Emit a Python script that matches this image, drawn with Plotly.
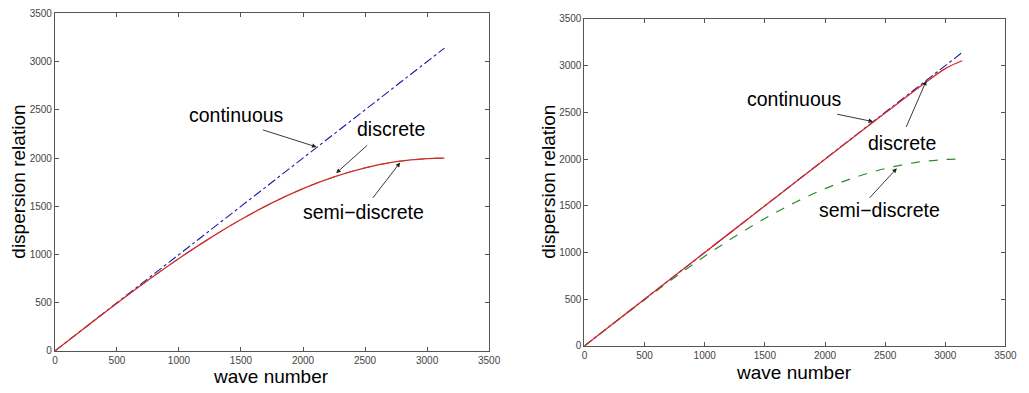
import plotly.graph_objects as go

# ---- data ----
wave_cont = [0, 3140]
cont_vals = [0, 3140]

wave_pts = [0, 250, 500, 750, 1000, 1250, 1500, 1750, 2000, 2250, 2500, 2750, 3000, 3140]
semi_discrete = [0, 249, 495, 733, 959, 1170, 1363, 1535, 1683, 1804, 1898, 1962, 1995, 2000]
discrete_left = [0, 249, 495, 733, 959, 1170, 1363, 1535, 1683, 1804, 1898, 1962, 1995, 2000]
discrete_right = [0, 250, 500, 750, 1000, 1250, 1499, 1749, 1998, 2246, 2492, 2736, 2968, 3052]

tick_vals = [0, 500, 1000, 1500, 2000, 2500, 3000, 3500]
tick_text = ["0", "500", "1000", "1500", "2000", "2500", "3000", "3500"]

BLUE = "#1a1a9e"
RED = "#d42a2a"
GREEN = "#2e8b2e"

fig = go.Figure()

# left panel
fig.add_trace(go.Scatter(x=wave_cont, y=cont_vals, mode="lines",
                         line=dict(color=BLUE, width=1.1, dash="dashdot"),
                         xaxis="x", yaxis="y", name="continuous"))
fig.add_trace(go.Scatter(x=wave_pts, y=semi_discrete, mode="lines", line_shape="spline",
                         line=dict(color=GREEN, width=1, dash="dash"),
                         xaxis="x", yaxis="y", name="semi-discrete"))
fig.add_trace(go.Scatter(x=wave_pts, y=discrete_left, mode="lines", line_shape="spline",
                         line=dict(color=RED, width=1.3),
                         xaxis="x", yaxis="y", name="discrete"))

# right panel
fig.add_trace(go.Scatter(x=wave_cont, y=cont_vals, mode="lines",
                         line=dict(color=BLUE, width=1.1, dash="dashdot"),
                         xaxis="x2", yaxis="y2", name="continuous"))
fig.add_trace(go.Scatter(x=wave_pts, y=semi_discrete, mode="lines", line_shape="spline",
                         line=dict(color=GREEN, width=1.2, dash="dash"),
                         xaxis="x2", yaxis="y2", name="semi-discrete"))
fig.add_trace(go.Scatter(x=wave_pts, y=discrete_right, mode="lines", line_shape="spline",
                         line=dict(color=RED, width=1.3),
                         xaxis="x2", yaxis="y2", name="discrete"))

axis_common = dict(range=[0, 3500], tickvals=tick_vals, ticktext=tick_text,
                   ticks="inside", ticklen=4, tickcolor="#555", showline=True,
                   linecolor="#555", linewidth=1, mirror="ticks", showgrid=False,
                   zeroline=False, tickfont=dict(family="Liberation Sans, Arial", size=10, color="#444"),
                   fixedrange=True)

fig.update_layout(
    width=1029, height=393,
    margin=dict(l=0, r=0, t=0, b=0),
    paper_bgcolor="white", plot_bgcolor="white",
    showlegend=False,
    xaxis=dict(domain=[0.0512, 0.4794], anchor="y", **axis_common),
    yaxis=dict(domain=[0.0944, 0.978], anchor="x", **axis_common),
    xaxis2=dict(domain=[0.5734, 0.9886], anchor="y2", **axis_common),
    yaxis2=dict(domain=[0.1076, 0.9636], anchor="x2", **axis_common),
)

TF = dict(family="Liberation Sans, Arial", size=19.5, color="black")
AF = dict(family="Liberation Sans, Arial", size=19, color="black")

W, H = 1029.0, 393.0
annotations = [
    dict(text="wave number", x=272 / W, y=1 - 382 / H, xref="paper", yref="paper",
         xanchor="center", yanchor="middle", showarrow=False, font=AF),
    dict(text="wave number", x=803 / W, y=1 - 378 / H, xref="paper", yref="paper",
         xanchor="center", yanchor="middle", showarrow=False, font=AF),
    dict(text="dispersion relation", x=16 / W, y=1 - 182 / H, xref="paper", yref="paper",
         xanchor="center", yanchor="middle", showarrow=False, font=AF, textangle=-90),
    dict(text="dispersion relation", x=554 / W, y=1 - 182 / H, xref="paper", yref="paper",
         xanchor="center", yanchor="middle", showarrow=False, font=AF, textangle=-90),
]

# text labels (data coordinates)
labels = [
    ("continuous", 1466, 2448, "x", "y"),
    ("discrete", 2712, 2297, "x", "y"),
    ("semi\u2212discrete", 2490, 1440, "x", "y"),
    ("continuous", 1745, 2639, "x2", "y2"),
    ("discrete", 2638, 2171, "x2", "y2"),
    ("semi\u2212discrete", 2457, 1454, "x2", "y2"),
]
for t, x, y, xr, yr in labels:
    annotations.append(dict(text=t, x=x, y=y, xref=xr, yref=yr, xanchor="center",
                            yanchor="middle", showarrow=False, font=TF))

# arrows (head x,y ; tail ax,ay) in data coordinates
arrows = [
    (2109, 2115, 1664, 2297, "x", "y"),
    (2267, 1843, 2529, 2146, "x", "y"),
    (2783, 1954, 2553, 1571, "x", "y"),
    (2400, 2400, 2089, 2483, "x2", "y2"),
    (2842, 2838, 2670, 2328, "x2", "y2"),
    (2597, 1901, 2359, 1568, "x2", "y2"),
]
for hx, hy, tx, ty, xr, yr in arrows:
    annotations.append(dict(text="", x=hx, y=hy, ax=tx, ay=ty, xref=xr, yref=yr,
                            axref=xr, ayref=yr, showarrow=True, arrowhead=2,
                            arrowsize=1, arrowwidth=0.9, arrowcolor="#222"))

fig.update_layout(annotations=annotations)
fig.write_html("out.html")
